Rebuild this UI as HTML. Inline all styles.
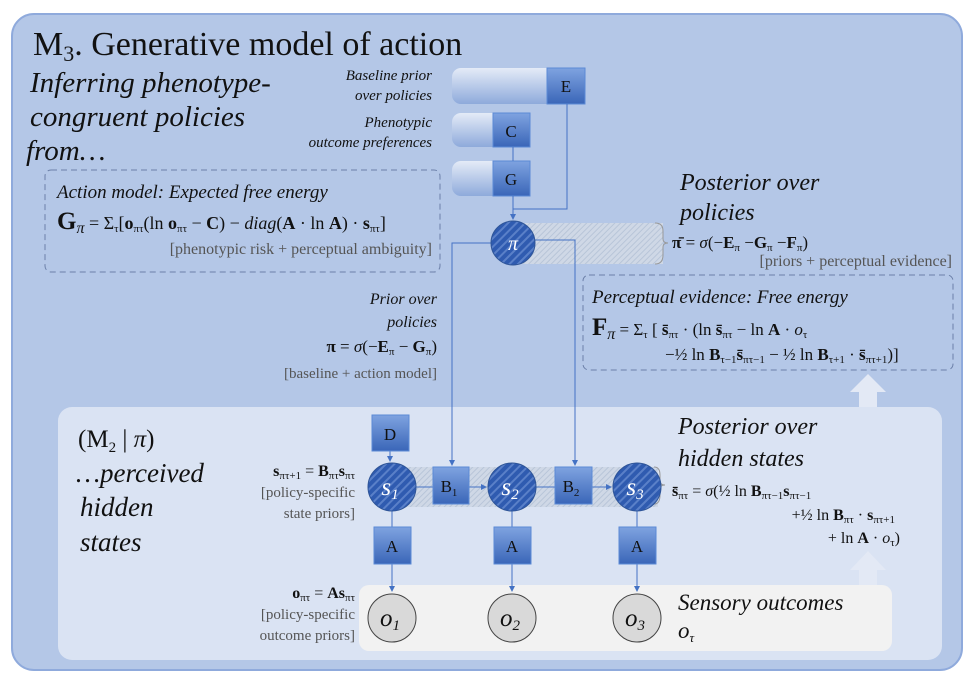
<!DOCTYPE html>
<html><head><meta charset="utf-8"><style>
body{margin:0;background:#fff}
svg{display:block}
text{font-family:"Liberation Serif",serif;fill:#111}
.i{font-style:italic}
.b{font-weight:bold}
.g{fill:#555}
</style></head><body>
<svg width="978" height="688" viewBox="0 0 978 688" xmlns="http://www.w3.org/2000/svg">
<defs>
<pattern id="h" width="6" height="6" patternUnits="userSpaceOnUse" patternTransform="rotate(45)">
<rect width="6" height="6" fill="#2f5bb0"/><rect width="2" height="6" fill="#5a80c8"/></pattern>
<pattern id="hl" width="4" height="4" patternUnits="userSpaceOnUse" patternTransform="rotate(45)">
<rect width="4" height="4" fill="#cfd8e6"/><rect width="1" height="4" fill="#b8c5d8"/></pattern>
<linearGradient id="bar" x1="0" y1="0" x2="0" y2="1"><stop offset="0" stop-color="#e4ebf7"/><stop offset="1" stop-color="#8eaadb"/></linearGradient>
<linearGradient id="bx" x1="0" y1="0" x2="0" y2="1"><stop offset="0" stop-color="#7fa3e0"/><stop offset="1" stop-color="#3a66b8"/></linearGradient>
<marker id="a" markerWidth="6" markerHeight="6" refX="5" refY="3" orient="auto"><path d="M0,0L6,3L0,6z" fill="#4472c4"/></marker>
</defs>
<rect x="12" y="14" width="950" height="656" rx="22" fill="#b4c7e7" stroke="#8faadc" stroke-width="2"/>
<rect x="58" y="407" width="884" height="253" rx="14" fill="#dae3f3"/>
<rect x="359" y="585" width="533" height="66" rx="10" fill="#f2f2f2"/>
<path d="M859,407 V392 H850 L868,374 L886,392 H877 V407Z" fill="#e3e9f5"/>
<path d="M859,585 V570 H850 L868,551 L886,570 H877 V585Z" fill="#e3e9f5"/>
<text x="33" y="55" font-size="34">M<tspan font-size="22" dy="6">3</tspan><tspan dy="-6">. Generative model of action</tspan></text>
<text class="i" font-size="29"><tspan x="30" y="92">Inferring phenotype-</tspan><tspan x="30" y="126">congruent policies</tspan><tspan x="26" y="160">from…</tspan></text>
<g class="i" font-size="15" text-anchor="end"><text x="432" y="80">Baseline prior</text><text x="432" y="100">over policies</text><text x="432" y="127">Phenotypic</text><text x="432" y="147">outcome preferences</text></g>
<rect x="452" y="68" width="133" height="36" rx="9" fill="url(#bar)"/><rect x="547" y="68" width="38" height="36" fill="url(#bx)" stroke="#5b8ad6"/><text x="566" y="92" font-size="17" text-anchor="middle">E</text>
<rect x="452" y="113" width="78" height="34" rx="9" fill="url(#bar)"/><rect x="493" y="113" width="37" height="34" fill="url(#bx)" stroke="#5b8ad6"/><text x="511" y="137" font-size="17" text-anchor="middle">C</text>
<rect x="452" y="161" width="78" height="35" rx="9" fill="url(#bar)"/><rect x="493" y="161" width="37" height="35" fill="url(#bx)" stroke="#5b8ad6"/><text x="511" y="185" font-size="17" text-anchor="middle">G</text>
<line x1="513" y1="147" x2="513" y2="161" stroke="#4472c4"/>
<path d="M567,104 V209 H513 V219" fill="none" stroke="#4472c4" marker-end="url(#a)"/>
<line x1="513" y1="196" x2="513" y2="219" stroke="#4472c4"/>
<rect x="45" y="170" width="395" height="102" rx="6" fill="none" stroke="#6b7fa8" stroke-dasharray="6,4"/>
<text x="57" y="198" class="i" font-size="19">Action model: Expected free energy</text>
<text x="57" y="229" font-size="18"><tspan class="b" font-size="25">G</tspan><tspan class="i" font-size="16" dy="4">π</tspan><tspan dy="-4"> = Σ</tspan><tspan font-size="11" dy="3">τ</tspan><tspan dy="-3">[</tspan><tspan class="b">o</tspan><tspan font-size="11" dy="3">πτ</tspan><tspan dy="-3">(ln </tspan><tspan class="b">o</tspan><tspan font-size="11" dy="3">πτ</tspan><tspan dy="-3"> − </tspan><tspan class="b">C</tspan><tspan>) − </tspan><tspan class="i">diag</tspan><tspan>(</tspan><tspan class="b">A</tspan><tspan> · ln </tspan><tspan class="b">A</tspan><tspan>) · </tspan><tspan class="b">s</tspan><tspan font-size="11" dy="3">πτ</tspan><tspan dy="-3">]</tspan></text>
<text x="432" y="254" font-size="16" text-anchor="end" class="g">[phenotypic risk + perceptual ambiguity]</text>
<rect x="513" y="223" width="150" height="41" fill="url(#hl)"/>
<path d="M655,223 q8,0 8,8 v8 q0,4 5,4 q-5,0 -5,4 v8 q0,9 -8,9" fill="none" stroke="#999"/>
<path d="M491,243 H452 V465" fill="none" stroke="#4472c4" marker-end="url(#a)"/>
<path d="M535,240 H575 V465" fill="none" stroke="#4472c4" marker-end="url(#a)"/>
<circle cx="513" cy="243" r="22" fill="url(#h)" stroke="#2f5597"/>
<text x="513" y="250" font-size="20" class="i" text-anchor="middle" style="fill:#fff">π</text>
<text class="i" font-size="24"><tspan x="680" y="190">Posterior over</tspan><tspan x="680" y="220">policies</tspan></text>
<text x="672" y="248" font-size="17"><tspan class="b">π̄</tspan><tspan> = </tspan><tspan class="i">σ</tspan>(−<tspan class="b">E</tspan><tspan font-size="11" dy="3">π</tspan><tspan dy="-3"> −</tspan><tspan class="b">G</tspan><tspan font-size="11" dy="3">π</tspan><tspan dy="-3"> −</tspan><tspan class="b">F</tspan><tspan font-size="11" dy="3">π</tspan><tspan dy="-3">)</tspan></text>
<text x="952" y="266" font-size="16" text-anchor="end" class="g">[priors + perceptual evidence]</text>
<rect x="583" y="275" width="370" height="95" rx="6" fill="none" stroke="#6b7fa8" stroke-dasharray="6,4"/>
<text x="592" y="303" class="i" font-size="19">Perceptual evidence: Free energy</text>
<text x="592" y="335" font-size="17"><tspan class="b" font-size="25">F</tspan><tspan class="i" font-size="16" dy="4">π</tspan><tspan dy="-4"> = Σ</tspan><tspan font-size="11" dy="3">τ</tspan><tspan dy="-3"> [ </tspan><tspan class="b">s̄</tspan><tspan font-size="11" dy="3">πτ</tspan><tspan dy="-3"> · (ln </tspan><tspan class="b">s̄</tspan><tspan font-size="11" dy="3">πτ</tspan><tspan dy="-3"> − ln </tspan><tspan class="b">A</tspan> · <tspan class="i">o</tspan><tspan font-size="11" dy="3">τ</tspan></text>
<text x="665" y="360" font-size="17">−½ ln <tspan class="b">B</tspan><tspan font-size="11" dy="3">τ−1</tspan><tspan class="b" dy="-3">s̄</tspan><tspan font-size="11" dy="3">πτ−1</tspan><tspan dy="-3"> − ½ ln </tspan><tspan class="b">B</tspan><tspan font-size="11" dy="3">τ+1</tspan><tspan dy="-3"> · </tspan><tspan class="b">s̄</tspan><tspan font-size="11" dy="3">πτ+1</tspan><tspan dy="-3">)]</tspan></text>
<g text-anchor="end"><text x="437" y="304" class="i" font-size="16">Prior over</text><text x="437" y="327" class="i" font-size="16">policies</text>
<text x="437" y="352" font-size="17"><tspan class="b">π</tspan> = <tspan class="i">σ</tspan>(−<tspan class="b">E</tspan><tspan font-size="11" dy="3">π</tspan><tspan dy="-3"> − </tspan><tspan class="b">G</tspan><tspan font-size="11" dy="3">π</tspan><tspan dy="-3">)</tspan></text>
<text x="437" y="378" font-size="15" class="g">[baseline + action model]</text></g>
<text x="78" y="447" font-size="25">(M<tspan font-size="15" dy="5">2</tspan><tspan dy="-5"> | </tspan><tspan class="i">π</tspan>)</text>
<text class="i" font-size="27"><tspan x="76" y="482">…perceived</tspan><tspan x="80" y="516">hidden</tspan><tspan x="80" y="551">states</tspan></text>
<g text-anchor="end"><text x="355" y="476" font-size="16"><tspan class="b">s</tspan><tspan font-size="11" dy="3">πτ+1</tspan><tspan dy="-3"> = </tspan><tspan class="b">B</tspan><tspan font-size="11" dy="3">πτ</tspan><tspan class="b" dy="-3">s</tspan><tspan font-size="11" dy="3">πτ</tspan></text>
<text x="355" y="497" font-size="15" class="g">[policy-specific</text><text x="355" y="518" font-size="15" class="g">state priors]</text>
<text x="355" y="598" font-size="16"><tspan class="b">o</tspan><tspan font-size="11" dy="3">πτ</tspan><tspan dy="-3"> = </tspan><tspan class="b">As</tspan><tspan font-size="11" dy="3">πτ</tspan></text>
<text x="355" y="619" font-size="15" class="g">[policy-specific</text><text x="355" y="640" font-size="15" class="g">outcome priors]</text></g>
<rect x="392" y="467" width="266" height="40" fill="url(#hl)"/>
<path d="M654,467 q6,0 6,8 v6 q0,4 5,4 q-5,0 -5,4 v6 q0,9 -6,9" fill="none" stroke="#999"/>
<line x1="390" y1="451" x2="390" y2="461" stroke="#4472c4" marker-end="url(#a)"/>
<line x1="416" y1="487" x2="433" y2="487" stroke="#4472c4"/>
<line x1="469" y1="487" x2="486" y2="487" stroke="#4472c4" marker-end="url(#a)"/>
<line x1="536" y1="487" x2="555" y2="487" stroke="#4472c4"/>
<line x1="592" y1="487" x2="611" y2="487" stroke="#4472c4" marker-end="url(#a)"/>
<rect x="372" y="415" width="37" height="36" fill="url(#bx)" stroke="#5b8ad6"/><text x="390" y="440" font-size="17" text-anchor="middle">D</text>
<rect x="433" y="467" width="36" height="37" fill="url(#bx)" stroke="#5b8ad6"/><text x="449" y="492" font-size="17" text-anchor="middle">B<tspan font-size="11" dy="4">1</tspan></text>
<rect x="555" y="467" width="37" height="37" fill="url(#bx)" stroke="#5b8ad6"/><text x="571" y="492" font-size="17" text-anchor="middle">B<tspan font-size="11" dy="4">2</tspan></text>
<g stroke="#4472c4">
<line x1="392" y1="511" x2="392" y2="527"/><line x1="512" y1="511" x2="512" y2="527"/><line x1="637" y1="511" x2="637" y2="527"/>
<line x1="392" y1="564" x2="392" y2="591" marker-end="url(#a)"/><line x1="512" y1="564" x2="512" y2="591" marker-end="url(#a)"/><line x1="637" y1="564" x2="637" y2="591" marker-end="url(#a)"/></g>
<g fill="url(#h)" stroke="#2f5597"><circle cx="392" cy="487" r="24"/><circle cx="512" cy="487" r="24"/><circle cx="637" cy="487" r="24"/></g>
<g class="i" font-size="25" text-anchor="middle"><text x="390" y="495" style="fill:#fff">s<tspan font-size="15" dy="4">1</tspan></text><text x="510" y="495" style="fill:#fff">s<tspan font-size="15" dy="4">2</tspan></text><text x="635" y="495" style="fill:#fff">s<tspan font-size="15" dy="4">3</tspan></text></g>
<g fill="url(#bx)" stroke="#5b8ad6"><rect x="374" y="527" width="37" height="37"/><rect x="494" y="527" width="37" height="37"/><rect x="619" y="527" width="37" height="37"/></g>
<g font-size="17" text-anchor="middle"><text x="392" y="552">A</text><text x="512" y="552">A</text><text x="637" y="552">A</text></g>
<g fill="#d9d9d9" stroke="#444"><circle cx="392" cy="618" r="24"/><circle cx="512" cy="618" r="24"/><circle cx="637" cy="618" r="24"/></g>
<g class="i" font-size="25" text-anchor="middle"><text x="390" y="626">o<tspan font-size="15" dy="4">1</tspan></text><text x="510" y="626">o<tspan font-size="15" dy="4">2</tspan></text><text x="635" y="626">o<tspan font-size="15" dy="4">3</tspan></text></g>
<text class="i" font-size="24"><tspan x="678" y="434">Posterior over</tspan><tspan x="678" y="466">hidden states</tspan></text>
<text x="672" y="496" font-size="16"><tspan class="b">s̄</tspan><tspan font-size="11" dy="3">πτ</tspan><tspan dy="-3"> = </tspan><tspan class="i">σ</tspan>(½ ln <tspan class="b">B</tspan><tspan font-size="11" dy="3">πτ−1</tspan><tspan class="b" dy="-3">s</tspan><tspan font-size="11" dy="3">πτ−1</tspan></text>
<text x="895" y="520" font-size="16" text-anchor="end">+½ ln <tspan class="b">B</tspan><tspan font-size="11" dy="3">πτ</tspan><tspan dy="-3"> · </tspan><tspan class="b">s</tspan><tspan font-size="11" dy="3">πτ+1</tspan></text>
<text x="900" y="543" font-size="16" text-anchor="end">+ ln <tspan class="b">A</tspan> · <tspan class="i">o</tspan><tspan font-size="11" dy="3">τ</tspan><tspan dy="-3">)</tspan></text>
<text class="i" font-size="23" x="678" y="610">Sensory outcomes</text>
<text class="i" font-size="23" x="678" y="638">o<tspan font-size="13" dy="4">τ</tspan></text>
</svg>
</body></html>
